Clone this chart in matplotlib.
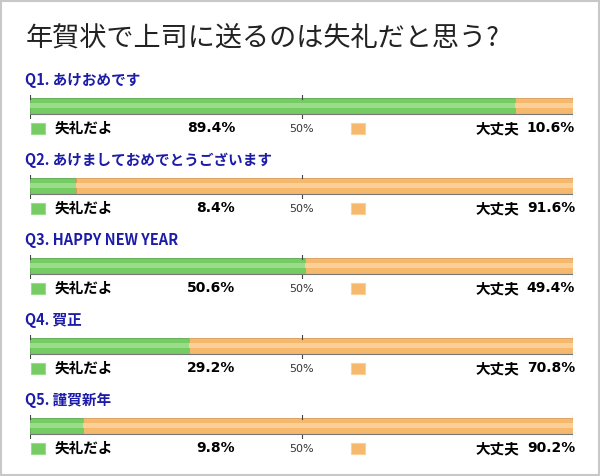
import matplotlib
matplotlib.use("Agg")
import matplotlib.pyplot as plt
from matplotlib.patches import Rectangle

plt.rcParams['font.family'] = ['Noto Sans CJK JP', 'DejaVu Sans']

title = "年賀状で上司に送るのは失礼だと思う?"
questions = ["Q1. あけおめです", "Q2. あけましておめでとうございます", "Q3. HAPPY NEW YEAR",
             "Q4. 賀正", "Q5. 謹賀新年"]
rude_pct = [89.4, 8.4, 50.6, 29.2, 9.8]
ok_pct = [10.6, 91.6, 49.4, 70.8, 90.2]
rude_label = "失礼だよ"
ok_label = "大丈夫"
mid_label = "50%"

W, H = 600, 476
fig = plt.figure(figsize=(W / 100, H / 100), dpi=100)
fig.patch.set_facecolor("white")

def fx(x):
    return x / W

def fy(y):
    return 1 - y / H

# outer border
fig.add_artist(Rectangle((fx(1), fy(475)), fx(598), 474 / H, transform=fig.transFigure,
                         fill=False, edgecolor="#c8c8c8", linewidth=1.5))

fig.text(fx(26), fy(38), title, fontsize=19.5, color="#222222", va="center", ha="left")

green = "#74cc62"
green_hi = "#9adb8c"
green_edge = "#5aa84c"
orange = "#f6b86c"
orange_hi = "#fbcf98"
orange_edge = "#d99c52"

x0, x1 = 30, 573
for i, q in enumerate(questions):
    base = 80 * i
    fig.text(fx(25), fy(80 + base), q, fontsize=10.5, color="#1c1ca8",
             fontweight="bold", va="center", ha="left")
    ax = fig.add_axes([fx(x0), fy(119 + base), fx(x1 - x0), 25 / H])
    ax.set_xlim(0, 100)
    ax.set_ylim(-0.5, 0.5)
    ax.axis("off")
    r = rude_pct[i]
    o = ok_pct[i]
    ax.barh(0.02, r, left=0, height=0.64, color=green, edgecolor=green_edge, linewidth=0.6)
    ax.barh(0.02, o, left=r, height=0.64, color=orange, edgecolor=orange_edge, linewidth=0.6)
    ax.barh(0.06, r, left=0, height=0.2, color=green_hi, linewidth=0)
    ax.barh(0.06, o, left=r, height=0.2, color=orange_hi, linewidth=0)
    for xv in (0, 50, 100):
        ax.plot([xv, xv], [-0.44, -0.28], color="#444444", linewidth=0.8)
        ax.plot([xv, xv], [0.32, 0.46], color="#444444", linewidth=0.8)
    ax.plot([0, 100], [-0.31, -0.31], color="#777777", linewidth=0.8)

    ly = 128 + base
    fig.add_artist(Rectangle((fx(31), fy(ly + 6)), fx(14), 11 / H, transform=fig.transFigure,
                             facecolor=green, edgecolor=green_hi, linewidth=0.8))
    fig.text(fx(55), fy(ly), rude_label, fontsize=10.5, fontweight="bold", va="center", ha="left")
    fig.text(fx(235), fy(ly), f"{r}%", fontsize=10, fontweight="bold", va="center", ha="right",
             family="DejaVu Sans")
    fig.text(fx(301), fy(ly + 1), mid_label, fontsize=8, color="#333333", va="center", ha="center",
             family="DejaVu Sans")
    fig.add_artist(Rectangle((fx(351), fy(ly + 6)), fx(14), 11 / H, transform=fig.transFigure,
                             facecolor=orange, edgecolor=orange_hi, linewidth=0.8))
    fig.text(fx(475), fy(ly), ok_label, fontsize=10.5, fontweight="bold", va="center", ha="left")
    fig.text(fx(575), fy(ly), f"{o}%", fontsize=10, fontweight="bold", va="center", ha="right",
             family="DejaVu Sans")

fig.savefig("out.png", dpi=100, facecolor="white")
